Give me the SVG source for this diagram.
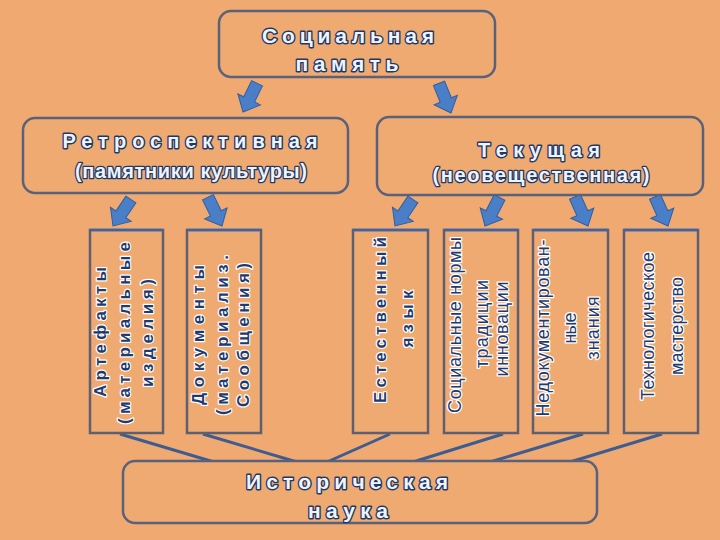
<svg xmlns="http://www.w3.org/2000/svg" width="720" height="540" viewBox="0 0 720 540">
<defs>
<style>
.bg{fill:#EFA971}
.box{fill:#EFAA72;stroke:#59627A;stroke-width:2.5}
.vbox{fill:#EFAA72;stroke:#5E6070;stroke-width:2.5}
.top{stroke:#3E63A8;stroke-width:2.5}
.h{font-family:"Liberation Sans",Arial,sans-serif;font-weight:bold;fill:#EEF4FC;stroke:#1F3866;stroke-width:2.8;paint-order:stroke;stroke-linejoin:round}
.h2{font-family:"Liberation Sans",Arial,sans-serif;font-weight:bold;fill:#EEF4FC;stroke:#1F3866;stroke-width:2.6;paint-order:stroke;stroke-linejoin:round}
.v{font-family:"Liberation Sans",Arial,sans-serif;font-weight:bold;font-size:17px;fill:#1E3A72;stroke:#FFFFFF;stroke-width:2.4;paint-order:stroke;stroke-linejoin:round}
.vr{font-family:"Liberation Sans",Arial,sans-serif;font-size:18px;fill:#1E3A72;stroke:#FFFFFF;stroke-width:2.6;paint-order:stroke;stroke-linejoin:round}
.conn{stroke:#3D5D92;stroke-width:3;fill:none}
.arr{fill:#4A7EC6;stroke:#2F5FA5;stroke-width:1}
</style>
<path id="ar" d="M -6,-32 L 6,-32 L 6,-14 L 12.5,-14 L 0,0 L -12.5,-14 L -6,-14 Z"/>
</defs>
<rect class="bg" x="0" y="0" width="720" height="540"/>

<g id="connectors">
<line class="conn" x1="120" y1="434" x2="214" y2="462"/>
<line class="conn" x1="203" y1="434" x2="297" y2="462"/>
<line class="conn" x1="390" y1="434" x2="327" y2="462"/>
<line class="conn" x1="503" y1="434" x2="413" y2="462"/>
<line class="conn" x1="583" y1="434" x2="490" y2="462"/>
<line class="conn" x1="662" y1="434" x2="570" y2="462"/>
<use href="#ar" class="arr" transform="translate(243,112) rotate(26)"/>
<use href="#ar" class="arr" transform="translate(451,113) rotate(-22)"/>
<use href="#ar" class="arr" transform="translate(113,226) rotate(34)"/>
<use href="#ar" class="arr" transform="translate(222,226) rotate(-26)"/>
<use href="#ar" class="arr" transform="translate(395,226) rotate(34)"/>
<use href="#ar" class="arr" transform="translate(485,226) rotate(27)"/>
<use href="#ar" class="arr" transform="translate(588,226) rotate(-24)"/>
<use href="#ar" class="arr" transform="translate(668,226) rotate(-24)"/>
</g>

<g id="social-memory">
<rect class="box" x="219" y="11" width="276" height="66" rx="12"/>
<text class="h" x="348" y="43" font-size="21" text-anchor="middle" textLength="172" lengthAdjust="spacing">Социальная</text>
<text class="h" x="347" y="71" font-size="21" text-anchor="middle" textLength="103" lengthAdjust="spacing">память</text>
</g>

<g id="retro">
<rect class="box" x="23" y="118" width="325" height="75" rx="12"/>
<text class="h" x="190" y="148" font-size="20" text-anchor="middle" textLength="255" lengthAdjust="spacing">Ретроспективная</text>
<text class="h2" x="191" y="178" font-size="20" text-anchor="middle" textLength="232" lengthAdjust="spacing">(памятники культуры)</text>
</g>

<g id="current">
<rect class="box" x="377" y="117" width="326" height="78" rx="12"/>
<text class="h" x="539" y="157" font-size="20" text-anchor="middle" textLength="122" lengthAdjust="spacing">Текущая</text>
<text class="h2" x="541" y="182" font-size="20" text-anchor="middle" textLength="217" lengthAdjust="spacing">(неовещественная)</text>
</g>

<g id="artifacts">
<rect class="vbox" x="90" y="230" width="73" height="203"/>
<line class="top" x1="90" y1="230" x2="163" y2="230"/>
<text class="v" transform="translate(106,332) rotate(-90)" text-anchor="middle" textLength="130" lengthAdjust="spacing">Артефакты</text>
<text class="v" transform="translate(130,333) rotate(-90)" text-anchor="middle" textLength="182" lengthAdjust="spacing">(материальные</text>
<text class="v" transform="translate(153,333) rotate(-90)" text-anchor="middle" textLength="108" lengthAdjust="spacing">изделия)</text>
</g>

<g id="documents">
<rect class="vbox" x="187" y="230" width="74" height="203"/>
<line class="top" x1="187" y1="230" x2="261" y2="230"/>
<text class="v" transform="translate(204,335) rotate(-90)" text-anchor="middle" textLength="140" lengthAdjust="spacing">Документы</text>
<text class="v" transform="translate(228,335) rotate(-90)" text-anchor="middle" textLength="160" lengthAdjust="spacing">(материализ.</text>
<text class="v" transform="translate(249,335) rotate(-90)" text-anchor="middle" textLength="144" lengthAdjust="spacing">Сообщения)</text>
</g>

<g id="language">
<rect class="vbox" x="353" y="230" width="75" height="203"/>
<line class="top" x1="353" y1="230" x2="428" y2="230"/>
<text class="v" transform="translate(386,320) rotate(-90)" text-anchor="middle" textLength="166" lengthAdjust="spacing">Естественный</text>
<text class="v" transform="translate(413,319) rotate(-90)" text-anchor="middle" textLength="57" lengthAdjust="spacing">язык</text>
</g>

<g id="norms">
<rect class="vbox" x="444" y="230" width="74" height="203"/>
<line class="top" x1="444" y1="230" x2="518" y2="230"/>
<text class="vr" transform="translate(461,325) rotate(-90)" text-anchor="middle" textLength="176" lengthAdjust="spacing">Социальные нормы</text>
<text class="vr" transform="translate(488,324) rotate(-90)" text-anchor="middle" textLength="88" lengthAdjust="spacing">традиции</text>
<text class="vr" transform="translate(508,329) rotate(-90)" text-anchor="middle" textLength="95" lengthAdjust="spacing">инновации</text>
</g>

<g id="undocumented">
<rect class="vbox" x="533" y="230" width="75" height="203"/>
<line class="top" x1="533" y1="230" x2="608" y2="230"/>
<text class="vr" transform="translate(549,328) rotate(-90)" text-anchor="middle" textLength="177" lengthAdjust="spacing">Недокументирован-</text>
<text class="vr" transform="translate(576,328) rotate(-90)" text-anchor="middle" textLength="31" lengthAdjust="spacing">ные</text>
<text class="vr" transform="translate(599,328) rotate(-90)" text-anchor="middle" textLength="63" lengthAdjust="spacing">знания</text>
</g>

<g id="technology">
<rect class="vbox" x="624" y="230" width="74" height="203"/>
<line class="top" x1="624" y1="230" x2="698" y2="230"/>
<text class="vr" transform="translate(654,326) rotate(-90)" text-anchor="middle" textLength="148" lengthAdjust="spacing">Технологическое</text>
<text class="vr" transform="translate(683,326) rotate(-90)" text-anchor="middle" textLength="98" lengthAdjust="spacing">мастерство</text>
</g>

<g id="history">
<rect class="box" x="123" y="461" width="474" height="62" rx="12"/>
<text class="h" x="347" y="489" font-size="21" text-anchor="middle" textLength="202" lengthAdjust="spacing">Историческая</text>
<text class="h" x="348" y="518" font-size="21" text-anchor="middle" textLength="80" lengthAdjust="spacing">наука</text>
</g>
</svg>
